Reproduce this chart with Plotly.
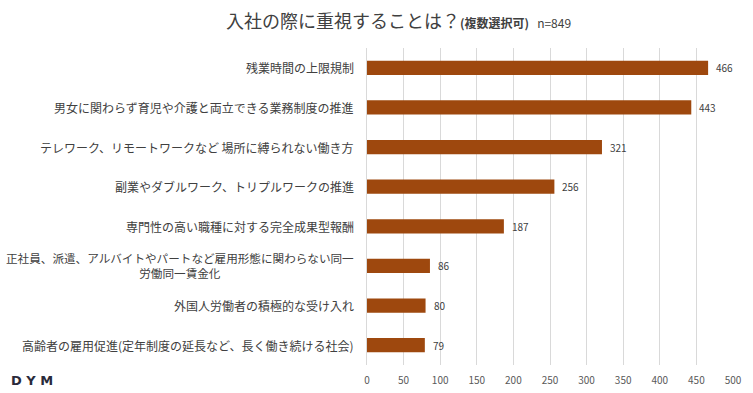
import plotly.graph_objects as go

categories = [
    "残業時間の上限規制",
    "男女に関わらず育児や介護と両立できる業務制度の推進",
    "テレワーク、リモートワークなど 場所に縛られない働き方",
    "副業やダブルワーク、トリプルワークの推進",
    "専門性の高い職種に対する完全成果型報酬",
    "正社員、派遣、アルバイトやパートなど雇用形態に関わらない同一<br>労働同一賃金化",
    "外国人労働者の積極的な受け入れ",
    "高齢者の雇用促進(定年制度の延長など、長く働き続ける社会)",
]
values = [466, 443, 321, 256, 187, 86, 80, 79]
x_ticks = [0, 50, 100, 150, 200, 250, 300, 350, 400, 450, 500]

FONT = "Noto Sans CJK JP"
BAR = "#9E480E"
W, H = 753, 393
L, R, T, B = 367, 20, 48, 28
PW, PH = W - L - R, H - T - B

fig = go.Figure()
fig.add_trace(go.Bar(
    x=values, y=list(range(len(categories))), orientation="h",
    marker=dict(color=BAR, line=dict(width=0)),
    width=0.36,
))

for i, v in enumerate(values):
    fig.add_annotation(
        x=v, xref="x", y=i, yref="y", text=str(v), showarrow=False,
        xanchor="left", yanchor="middle", xshift=6,
        font=dict(family=FONT, size=10, color="#404040"),
    )

for i, c in enumerate(categories):
    fig.add_annotation(
        x=0, xref="paper", y=i, yref="y", text=c, showarrow=False,
        xanchor="right", yanchor="middle", align="center", xshift=-11,
        font=dict(family=FONT, size=11.6 if "<br>" in c else 12, color="#404040"),
    )

fig.add_annotation(
    x=(398 - L) / PW, xref="paper", y=1 + (T - 20) / PH, yref="paper", showarrow=False,
    xanchor="center", yanchor="middle",
    text=("<span style='font-size:18px'>入社の際に重視することは？</span>"
          "<b><span style='font-size:12px'>(複数選択可)</span></b>"
          "<span style='font-size:12px'>&nbsp;&nbsp;&nbsp;n=849</span>"),
    font=dict(family=FONT, color="#404040"),
)

fig.add_annotation(
    x=-(L - 9) / PW, xref="paper", y=-(381 - (H - B)) / PH, yref="paper",
    text="<b>D&nbsp;Y&nbsp;M</b>", showarrow=False,
    xanchor="left", yanchor="middle",
    font=dict(family="DejaVu Sans", size=13, color="#2a2a3a"),
)

fig.update_layout(
    width=W, height=H,
    margin=dict(l=L, r=R, t=T, b=B, autoexpand=False),
    paper_bgcolor="white", plot_bgcolor="white",
    showlegend=False,
)
fig.update_xaxes(
    range=[0, 500], tickvals=x_ticks, ticktext=[str(t) for t in x_ticks],
    showgrid=True, gridcolor="#d9d9d9", gridwidth=1,
    zeroline=False, showline=False, ticks="",
    ticklabelstandoff=8, automargin=False,
    tickfont=dict(family=FONT, size=10, color="#595959"),
    fixedrange=True,
)
fig.update_yaxes(
    range=[len(categories) - 0.5, -0.5],
    showticklabels=False, showgrid=False, zeroline=False,
    showline=True, linecolor="#d9d9d9", linewidth=1, ticks="",
    automargin=False, fixedrange=True,
)

fig.write_html("out.html", config={"displayModeBar": False},
               post_script="document.body.style.margin='0';")
